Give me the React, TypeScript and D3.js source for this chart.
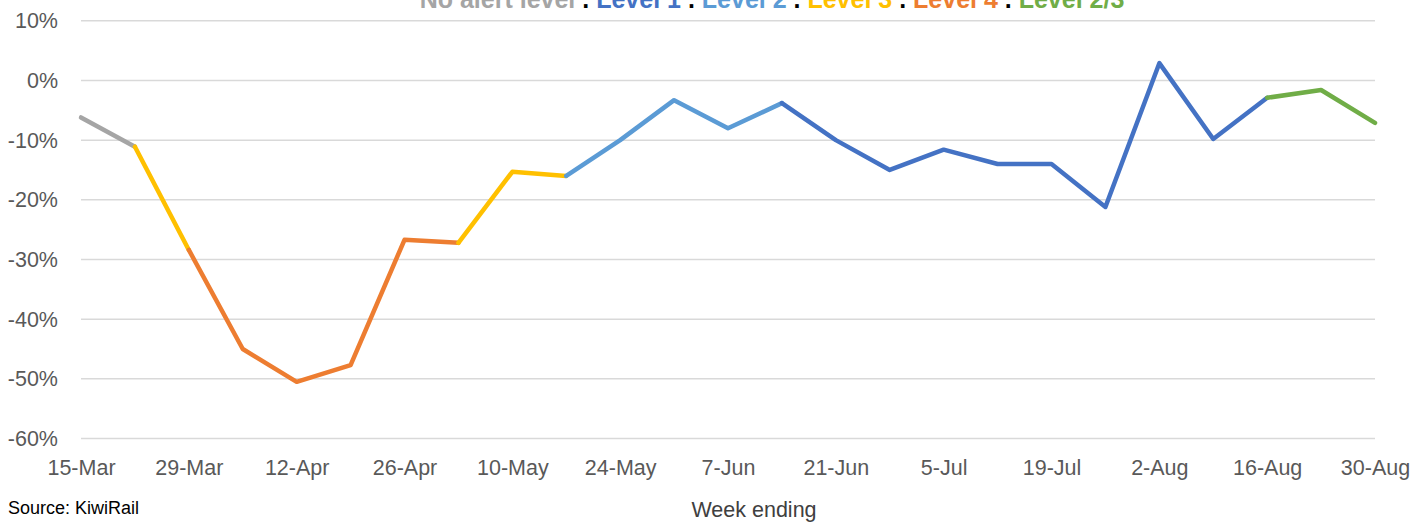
import { useRef, useEffect } from "react";
import * as d3 from "d3";

// week ending labels
const weeks = [
  "15-Mar", "22-Mar", "29-Mar", "5-Apr", "12-Apr", "19-Apr", "26-Apr", "3-May",
  "10-May", "17-May", "24-May", "31-May", "7-Jun", "14-Jun", "21-Jun", "28-Jun",
  "5-Jul", "12-Jul", "19-Jul", "26-Jul", "2-Aug", "9-Aug", "16-Aug", "23-Aug", "30-Aug",
];

// % change
const values = [
  -6.2, -11.1, -28.4, -45.0, -50.5, -47.7, -26.7, -27.2,
  -15.3, -16.0, -10.0, -3.3, -8.0, -3.8, -10.0, -15.0,
  -11.6, -14.0, -14.0, -21.2, 2.9, -9.8, -2.9, -1.6, -7.1,
];

// alert level of the segment that ends at each week (first entry unused)
const levels = [
  "none", "none", "L3", "L4", "L4", "L4", "L4", "L4",
  "L3", "L3", "L2", "L2", "L2", "L2", "L1", "L1",
  "L1", "L1", "L1", "L1", "L1", "L1", "L1", "L23", "L23",
];

const levelColors: Record<string, string> = {
  none: "#A5A5A5",
  L1: "#4472C4",
  L2: "#5B9BD5",
  L3: "#FFC000",
  L4: "#ED7D31",
  L23: "#70AD47",
};

const titleParts = [
  { text: "No alert level", key: "none" },
  { text: "Level 1", key: "L1" },
  { text: "Level 2", key: "L2" },
  { text: "Level 3", key: "L3" },
  { text: "Level 4", key: "L4" },
  { text: "Level 2/3", key: "L23" },
];

const yTicks = [10, 0, -10, -20, -30, -40, -50, -60];

export default function App() {
  const svgRef = useRef<SVGSVGElement>(null);

  useEffect(() => {
    const width = 1412;
    const height = 522;
    const font = "'Liberation Sans', Arial, sans-serif";

    const svg = d3.select(svgRef.current)
      .attr("width", width)
      .attr("height", height);
    svg.selectAll("*").remove();

    const xScale = d3.scalePoint<string>()
      .domain(weeks)
      .range([81, 1375]);

    const yScale = d3.scaleLinear()
      .domain([-60, 10])
      .range([438.5, 20.8]);

    // gridlines
    svg.append("g")
      .selectAll("line")
      .data(yTicks)
      .join("line")
      .attr("x1", 81)
      .attr("x2", 1375)
      .attr("y1", d => yScale(d))
      .attr("y2", d => yScale(d))
      .attr("stroke", "#D9D9D9")
      .attr("stroke-width", 1.5);

    // y axis
    const yAxis = d3.axisLeft(yScale)
      .tickValues(yTicks)
      .tickSize(0)
      .tickPadding(0)
      .tickFormat(d => `${d}%`);

    svg.append("g")
      .attr("transform", "translate(58,0)")
      .call(yAxis)
      .call(g => g.select(".domain").remove())
      .call(g => g.selectAll("text")
        .attr("fill", "#595959")
        .style("font-family", font)
        .style("font-size", "21.5px"));

    // x axis
    const xAxis = d3.axisBottom(xScale)
      .tickValues(weeks.filter((_, i) => i % 2 === 0))
      .tickSize(0)
      .tickPadding(0);

    svg.append("g")
      .attr("transform", "translate(0,460)")
      .call(xAxis)
      .call(g => g.select(".domain").remove())
      .call(g => g.selectAll("text")
        .attr("fill", "#595959")
        .style("font-family", font)
        .style("font-size", "21.5px"));

    // line segments grouped by alert level
    const data = weeks.map((w, i) => ({ x: w, y: values[i], level: levels[i] }));
    const groups: { level: string; pts: typeof data }[] = [];
    for (let i = 1; i < data.length; i++) {
      const last = groups[groups.length - 1];
      if (last && last.level === data[i].level) {
        last.pts.push(data[i]);
      } else {
        groups.push({ level: data[i].level, pts: [data[i - 1], data[i]] });
      }
    }

    const line = d3.line<{ x: string; y: number }>()
      .x(d => xScale(d.x) as number)
      .y(d => yScale(d.y));

    svg.append("g")
      .selectAll("path")
      .data(groups)
      .join("path")
      .attr("d", d => line(d.pts))
      .attr("fill", "none")
      .attr("stroke", d => levelColors[d.level])
      .attr("stroke-width", 4.5)
      .attr("stroke-linejoin", "round")
      .attr("stroke-linecap", "round");

    // title (partly cut off at the top, as in the source)
    const title = svg.append("text")
      .attr("x", 772)
      .attr("y", 8)
      .attr("text-anchor", "middle")
      .style("font-family", font)
      .style("font-size", "25px")
      .style("font-weight", "bold");
    titleParts.forEach((p, i) => {
      if (i > 0) title.append("tspan").attr("fill", "#000").text(" . ");
      title.append("tspan").attr("fill", levelColors[p.key]).text(p.text);
    });

    // footer
    svg.append("text")
      .attr("x", 8)
      .attr("y", 514)
      .attr("fill", "#000")
      .style("font-family", font)
      .style("font-size", "18px")
      .text("Source: KiwiRail");

    svg.append("text")
      .attr("x", 754)
      .attr("y", 517)
      .attr("text-anchor", "middle")
      .attr("fill", "#404040")
      .style("font-family", font)
      .style("font-size", "21.5px")
      .text("Week ending");
  }, []);

  return (
    <svg ref={svgRef} style={{ position: "absolute", left: 0, top: 0, background: "#fff" }}></svg>
  );
}
